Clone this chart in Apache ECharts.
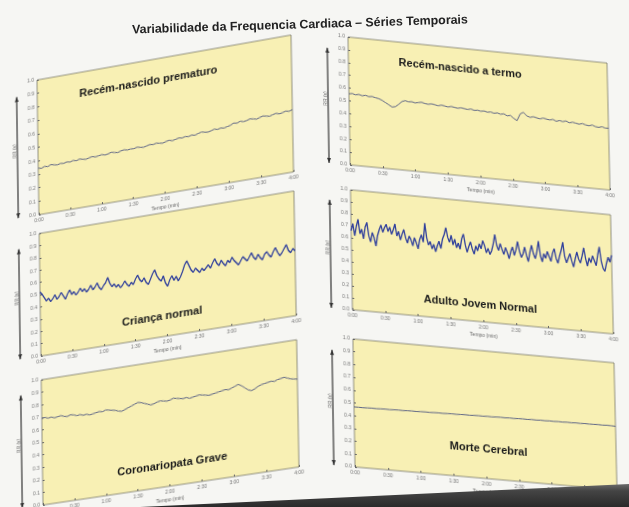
<!DOCTYPE html>
<html>
<head>
<meta charset="utf-8">
<script src="https://cdn.jsdelivr.net/npm/echarts/dist/echarts.min.js"></script>
<style>
  html, body { margin: 0; padding: 0; }
  body { width: 629px; height: 507px; overflow: hidden; position: relative; background: #f6f6f3; }
  .col { position: absolute; left: 0; top: 0; transform-origin: 0 0; }
  #left, #right { width: 330px; height: 520px; }
  #overlay { position: absolute; left: 0; top: 0; width: 629px; height: 507px; }
</style>
</head>
<body>
<div id="left" class="col"></div>
<div id="right" class="col"></div>
<div id="overlay"></div>
<script>
// series (fraction of each panel's height)
const prematuro = [0.345,0.34,0.35,0.345,0.355,0.35,0.345,0.352,0.348,0.355,
  0.35,0.358,0.352,0.36,0.355,0.35,0.357,0.362,0.356,0.36,
  0.365,0.358,0.362,0.37,0.364,0.36,0.368,0.372,0.366,0.37,
  0.368,0.375,0.37,0.366,0.372,0.378,0.374,0.38,0.376,0.372,
  0.38,0.385,0.378,0.384,0.39,0.386,0.392,0.388,0.395,0.39,
  0.398,0.405,0.4,0.396,0.402,0.41,0.404,0.41,0.406,0.412,
  0.418,0.43,0.425,0.435,0.428,0.432,0.44,0.436,0.43,0.438,
  0.445,0.44,0.435,0.442,0.448,0.44,0.445,0.452,0.446,0.455]
const termo = [0.555,0.56,0.552,0.558,0.55,0.556,0.548,0.552,0.545,0.54,
  0.53,0.515,0.5,0.485,0.49,0.51,0.535,0.545,0.538,0.542,
  0.535,0.54,0.545,0.538,0.534,0.54,0.536,0.53,0.538,0.534,
  0.528,0.535,0.53,0.526,0.532,0.528,0.524,0.53,0.522,0.526,
  0.52,0.525,0.518,0.522,0.515,0.52,0.512,0.518,0.505,0.51,
  0.49,0.475,0.53,0.545,0.52,0.51,0.518,0.512,0.506,0.515,
  0.51,0.505,0.512,0.5,0.508,0.502,0.51,0.498,0.505,0.5,
  0.495,0.502,0.494,0.49,0.498,0.488,0.485,0.492,0.484,0.486]
const crianca = [0.52,0.5,0.47,0.44,0.46,0.43,0.45,0.48,0.44,0.46,
  0.49,0.46,0.43,0.47,0.5,0.46,0.48,0.45,0.47,0.5,
  0.47,0.49,0.46,0.48,0.51,0.47,0.49,0.52,0.48,0.46,
  0.49,0.51,0.55,0.5,0.47,0.49,0.46,0.48,0.45,0.47,
  0.5,0.47,0.45,0.48,0.46,0.5,0.53,0.49,0.47,0.5,
  0.46,0.44,0.48,0.52,0.55,0.5,0.47,0.45,0.49,0.43,
  0.4,0.45,0.48,0.44,0.47,0.43,0.46,0.5,0.55,0.58,
  0.54,0.5,0.48,0.51,0.49,0.47,0.5,0.48,0.5,0.52,
  0.49,0.53,0.56,0.52,0.5,0.54,0.51,0.49,0.53,0.51,
  0.55,0.52,0.5,0.48,0.51,0.54,0.52,0.5,0.53,0.56,
  0.52,0.5,0.54,0.51,0.49,0.53,0.55,0.52,0.5,0.54,
  0.57,0.53,0.5,0.52,0.55,0.58,0.53,0.51,0.54,0.52]
const adulto = [0.66,0.72,0.62,0.7,0.76,0.64,0.68,0.6,0.7,0.74,
  0.63,0.58,0.66,0.62,0.55,0.64,0.69,0.73,0.67,0.71,
  0.74,0.68,0.72,0.66,0.7,0.75,0.65,0.69,0.62,0.67,
  0.71,0.64,0.6,0.66,0.63,0.58,0.65,0.61,0.56,0.64,
  0.68,0.62,0.78,0.66,0.6,0.63,0.57,0.61,0.55,0.6,
  0.64,0.58,0.66,0.7,0.76,0.68,0.64,0.7,0.62,0.67,
  0.6,0.64,0.59,0.68,0.72,0.63,0.57,0.62,0.66,0.6,
  0.56,0.63,0.59,0.65,0.61,0.68,0.64,0.58,0.62,0.57,
  0.6,0.66,0.74,0.65,0.61,0.67,0.62,0.58,0.64,0.6,
  0.55,0.61,0.65,0.58,0.63,0.7,0.62,0.57,0.6,0.66,
  0.59,0.54,0.62,0.68,0.61,0.57,0.63,0.72,0.6,0.55,
  0.62,0.58,0.64,0.6,0.56,0.63,0.67,0.59,0.55,0.61,
  0.66,0.73,0.61,0.56,0.6,0.64,0.58,0.53,0.6,0.66,
  0.6,0.57,0.63,0.7,0.61,0.55,0.62,0.58,0.64,0.6,
  0.56,0.65,0.72,0.6,0.54,0.52,0.59,0.64,0.6,0.66]
const coronariopata = [0.69,0.695,0.685,0.69,0.68,0.685,0.69,0.68,0.675,0.685,
  0.68,0.67,0.675,0.665,0.67,0.66,0.665,0.67,0.675,0.67,
  0.68,0.675,0.67,0.665,0.655,0.65,0.66,0.67,0.68,0.69,
  0.7,0.695,0.685,0.675,0.665,0.67,0.68,0.685,0.68,0.675,
  0.68,0.69,0.685,0.68,0.675,0.68,0.67,0.675,0.68,0.685,
  0.68,0.675,0.67,0.675,0.68,0.685,0.69,0.695,0.69,0.7,
  0.71,0.72,0.705,0.685,0.665,0.655,0.665,0.68,0.69,0.695,
  0.7,0.705,0.7,0.71,0.715,0.72,0.71,0.7,0.695,0.69]
const morte = [0.468,0.469,0.468,0.47,0.471,0.47,0.472,0.473,0.472,0.474,
  0.475,0.474,0.476,0.477,0.476,0.478,0.479,0.478,0.48,0.481,
  0.48,0.482,0.483,0.482,0.484,0.485,0.484,0.486,0.487,0.486,
  0.488,0.487,0.489,0.49,0.489,0.491,0.49,0.492,0.493,0.492,
  0.494,0.493,0.495,0.494,0.496,0.495,0.497,0.496,0.498,0.497,
  0.499,0.498,0.5,0.499,0.5,0.501,0.5,0.502,0.501,0.5]

const tempoTicks = ['0:00','0:30','1:00','1:30','2:00','2:30','3:00','3:30','4:00']
const titulo = 'Variabilidade da Frequencia Cardiaca – Séries Temporais'

const yellow = '#f8f0b4'
const lineBlue = '#2f3f9c'
const lineGray = '#4d5680'

// homography: source rect -> photographed quad (for the page's perspective)
function quadMatrix(sx, sy, sw, sh, q) {
    const [x0, y0] = q[0], [x1, y1] = q[1], [x2, y2] = q[2], [x3, y3] = q[3]
    const dx1 = x1 - x2, dx2 = x3 - x2, dx3 = x0 - x1 + x2 - x3
    const dy1 = y1 - y2, dy2 = y3 - y2, dy3 = y0 - y1 + y2 - y3
    const den = dx1 * dy2 - dx2 * dy1
    const g = (dx3 * dy2 - dx2 * dy3) / den
    const h = (dx1 * dy3 - dx3 * dy1) / den
    const a = x1 - x0 + g * x1, b = x3 - x0 + h * x3, c = x0
    const d = y1 - y0 + g * y1, e = y3 - y0 + h * y3, f = y0
    const A = a / sw, B = b / sh, C = c - a * sx / sw - b * sy / sh
    const D = d / sw, E = e / sh, F = f - d * sx / sw - e * sy / sh
    const G = g / sw, H = h / sh, I = 1 - g * sx / sw - h * sy / sh
    return `matrix3d(${A},${D},0,${G},${B},${E},0,${H},0,0,1,0,${C},${F},0,${I})`
}

function arrow(x, y1, y2) {
    return {
        type: 'group',
        children: [
            {type: 'line', shape: {x1: x, y1: y1, x2: x, y2: y2}, style: {stroke: '#333', lineWidth: 1.2}},
            {type: 'polygon', shape: {points: [[x - 2, y1 + 5], [x + 2, y1 + 5], [x, y1]]}, style: {fill: '#333'}},
            {type: 'polygon', shape: {points: [[x - 2, y2 - 5], [x + 2, y2 - 5], [x, y2]]}, style: {fill: '#333'}},
        ],
    }
}

function panelTitle(text, x, y) {
    return {
        type: 'text',
        x: x,
        y: y,
        style: {text: text, font: 'bold 11px "Liberation Sans", sans-serif', fill: '#1a1a1a', align: 'center', verticalAlign: 'middle'},
    }
}

function buildColumn(panels) {
    const grid = [], xAxis = [], yAxis = [], series = [], graphic = []
    panels.forEach((p, i) => {
        const n = p.data.length - 1
        const step = n / (tempoTicks.length - 1)
        grid.push({left: p.left, top: p.top, width: p.width, height: p.height, show: true,
            backgroundColor: yellow, borderColor: '#7a7a6a', borderWidth: 0.8, outerBoundsMode: 'none'})
        xAxis.push({
            type: 'value', gridIndex: i, min: 0, max: n, interval: step,
            name: 'Tempo (min)', nameLocation: 'middle', nameGap: 11,
            nameTextStyle: {fontSize: 5, color: '#666'},
            axisLine: {show: false}, splitLine: {show: false},
            axisTick: {inside: true, length: 2, lineStyle: {color: '#666'}},
            axisLabel: {fontSize: 5, color: '#777', margin: 3, formatter: (v) => tempoTicks[Math.round(v / step)] || ''},
        })
        yAxis.push({
            type: 'value', gridIndex: i, min: 0, max: 1, interval: 0.1,
            name: 'RR (s)', nameLocation: 'middle', nameGap: 14,
            nameTextStyle: {fontSize: 5, color: '#666'},
            axisLine: {show: false}, splitLine: {show: false},
            axisTick: {inside: true, length: 2, lineStyle: {color: '#666'}},
            axisLabel: {fontSize: 5, color: '#777', margin: 3, formatter: (v) => v.toFixed(1)},
        })
        series.push({
            type: 'line', xAxisIndex: i, yAxisIndex: i, showSymbol: false, silent: true,
            data: p.data.map((v, k) => [k, v]),
            lineStyle: {color: p.color, width: p.lw},
        })
        graphic.push(panelTitle(p.title, p.left + p.tu * p.width, p.top + p.tv * p.height))
        graphic.push(arrow(p.left - 21, p.top + p.height * 0.1, p.top + p.height))
    })
    return {animation: false, grid, xAxis, yAxis, series, graphic}
}

const leftPanels = [
    {title: 'Recém-nascido prematuro', data: prematuro, left: 45, top: 25, width: 255, height: 137, tu: 0.44, tv: 0.16, color: lineGray, lw: 0.9},
    {title: 'Criança normal', data: crianca, left: 45, top: 181, width: 255, height: 124, tu: 0.48, tv: 0.84, color: lineBlue, lw: 1.3},
    {title: 'Coronariopata Grave', data: coronariopata, left: 45, top: 329, width: 255, height: 126, tu: 0.51, tv: 0.83, color: lineGray, lw: 0.9},
]
const rightPanels = [
    {title: 'Recém-nascido a termo', data: termo, left: 45, top: 25, width: 262, height: 129, tu: 0.43, tv: 0.16, color: lineGray, lw: 0.9},
    {title: 'Adulto Jovem Normal', data: adulto, left: 45, top: 179, width: 262, height: 120, tu: 0.49, tv: 0.86, color: lineBlue, lw: 1.3},
    {title: 'Morte Cerebral', data: morte, left: 45, top: 328, width: 262, height: 127, tu: 0.51, tv: 0.77, color: lineGray, lw: 0.9},
]

const leftEl = document.getElementById('left')
const rightEl = document.getElementById('right')
leftEl.style.transform = quadMatrix(45, 25, 255, 430, [[37, 80], [291, 35], [299, 467], [43, 505]])
rightEl.style.transform = quadMatrix(45, 25, 262, 430, [[348, 37], [607, 63], [617, 490], [355, 467]])

const leftChart = echarts.init(leftEl, null, {renderer: 'canvas'})
leftChart.setOption(buildColumn(leftPanels))
const rightChart = echarts.init(rightEl, null, {renderer: 'canvas'})
rightChart.setOption(buildColumn(rightPanels))

// page title and the dark edge at the bottom of the photo
const overlay = echarts.init(document.getElementById('overlay'))
overlay.setOption({
    animation: false,
    graphic: [
        {
            type: 'text', x: 300, y: 25, rotation: 0.03,
            style: {text: titulo, font: 'bold 12.4px "Liberation Sans", sans-serif', fill: '#222', align: 'center', verticalAlign: 'middle'},
        },
        {
            type: 'polygon',
            shape: {points: [[140, 507], [629, 484], [629, 507]]},
            style: {fill: new echarts.graphic.LinearGradient(0, 0, 0, 1, [
                {offset: 0, color: '#6a6a6a'}, {offset: 0.3, color: '#444'}, {offset: 1, color: '#2a2a2a'},
            ])},
        },
    ],
})
</script>
</body>
</html>
